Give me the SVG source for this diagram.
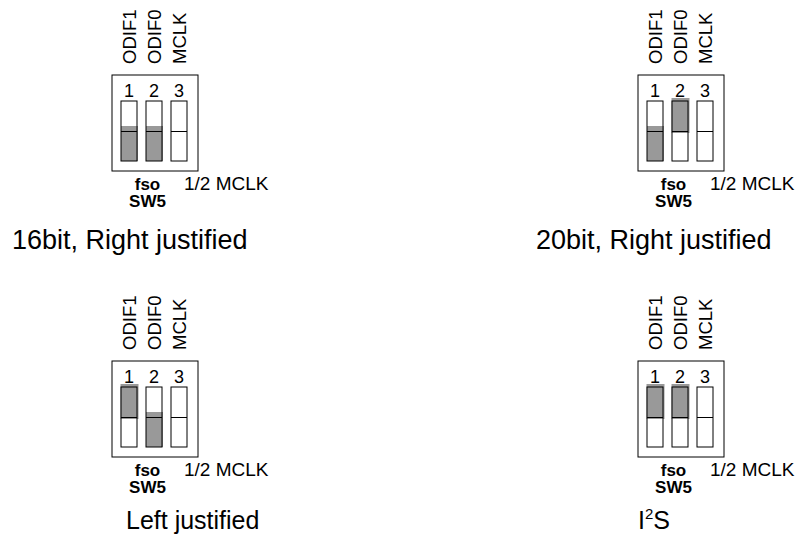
<svg xmlns="http://www.w3.org/2000/svg" width="798" height="544" viewBox="0 0 798 544">
<style>
text{font-family:"Liberation Sans",Arial,sans-serif;fill:#000}
.box{fill:#fff;stroke:#000;stroke-width:1}
.sw{fill:none;stroke:#000;stroke-width:1}
.knob{fill:#999;stroke:none}
.num{font-size:18px;text-anchor:middle}
.lab{font-size:18.5px}
.bold{font-size:17px;font-weight:bold;text-anchor:middle}
.half{font-size:19px}
.cap{font-size:27px}
.cap2{font-size:25px}
</style>
<defs>
<g id="base">
<rect class="box" x="112" y="75" width="86" height="96"/>
<text class="lab" transform="translate(135.5,64) rotate(-90)">ODIF1</text>
<text class="lab" transform="translate(160.5,64) rotate(-90)">ODIF0</text>
<text class="lab" transform="translate(185.5,64) rotate(-90)">MCLK</text>
<text class="num" x="129" y="97">1</text>
<text class="num" x="154" y="97">2</text>
<text class="num" x="179" y="97">3</text>
<text class="bold" x="147.5" y="190">fso</text>
<text class="bold" x="147.5" y="207">SW5</text>
<text class="half" x="184" y="190">1/2 MCLK</text>
</g>
<g id="switches">
<rect class="sw" x="121" y="101" width="16" height="60"/>
<line class="sw" x1="121" y1="131.5" x2="137" y2="131.5"/>
<rect class="sw" x="146" y="101" width="16" height="60"/>
<line class="sw" x1="146" y1="131.5" x2="162" y2="131.5"/>
<rect class="sw" x="171" y="101" width="16" height="60"/>
<line class="sw" x1="171" y1="131.5" x2="187" y2="131.5"/>
</g>
<rect id="down" class="knob" x="0" y="126" width="17" height="35"/>
<rect id="up" class="knob" x="-0.5" y="98" width="18" height="35"/>
</defs>
<g id="panel-16bit">
<use href="#base"/>
<use href="#down" x="121"/>
<use href="#down" x="146"/>
<use href="#switches"/>
<text class="cap" x="12" y="249">16bit, Right justified</text>
</g>
<g id="panel-20bit" transform="translate(526,0)">
<use href="#base"/>
<use href="#down" x="121"/>
<use href="#up" x="146"/>
<use href="#switches"/>
<text class="cap" x="10" y="249">20bit, Right justified</text>
</g>
<g id="panel-left" transform="translate(0,286)">
<use href="#base"/>
<use href="#up" x="121"/>
<use href="#down" x="146"/>
<use href="#switches"/>
<text class="cap2" x="126" y="243">Left justified</text>
</g>
<g id="panel-i2s" transform="translate(526,286)">
<use href="#base"/>
<use href="#up" x="121"/>
<use href="#up" x="146"/>
<use href="#switches"/>
<text class="cap2" x="112" y="243">I<tspan font-size="15" dy="-10">2</tspan><tspan dy="10">S</tspan></text>
</g>
</svg>
